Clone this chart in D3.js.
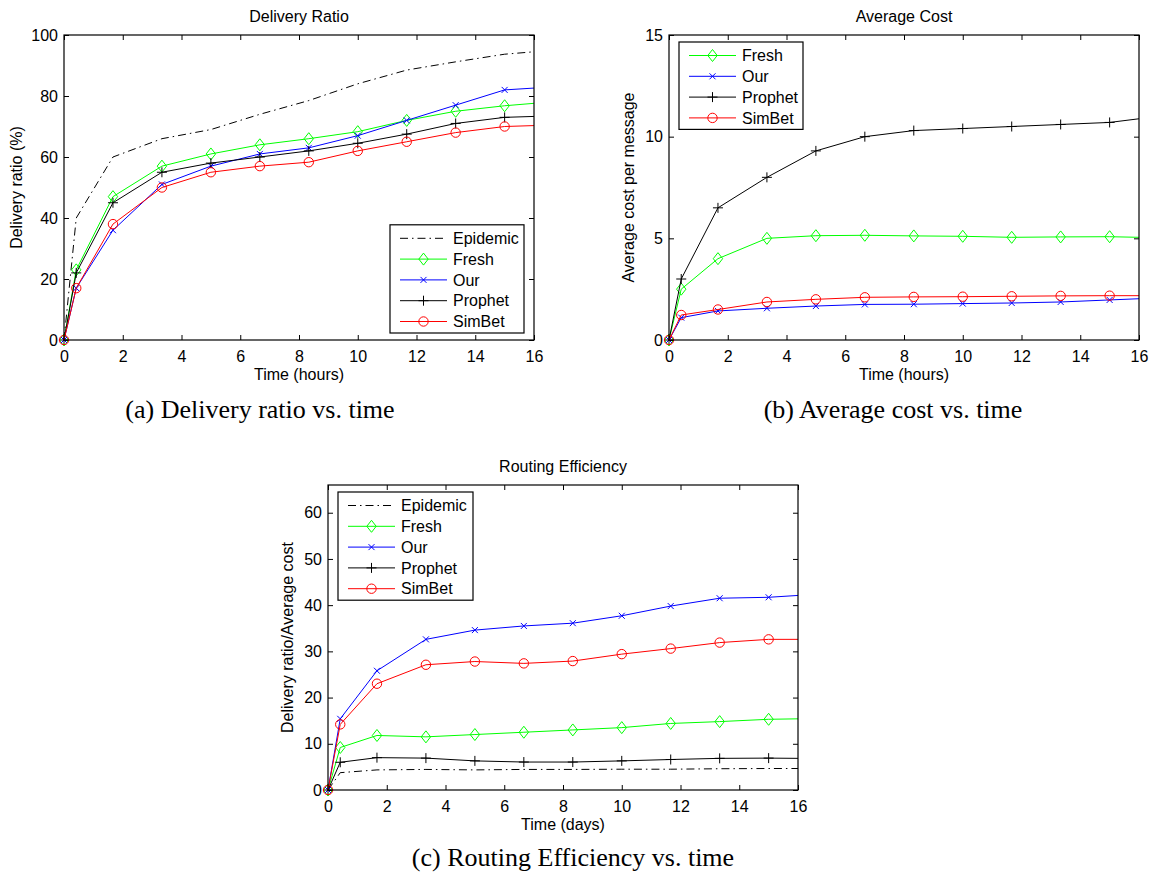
<!DOCTYPE html>
<html>
<head>
<meta charset="utf-8">
<script src="https://cdn.jsdelivr.net/npm/d3@7"></script>
<style>
  html, body { margin: 0; padding: 0; background: #fff; }
  svg { display: block; }
  .ax text { font-family: "Liberation Sans", Arial, sans-serif; font-size: 16px; fill: #000; }
  .lbl { font-family: "Liberation Sans", Arial, sans-serif; font-size: 16px; fill: #000; }
  .cap { font-family: "Liberation Serif", "Times New Roman", serif; font-size: 26px; fill: #000; }
</style>
</head>
<body>
<svg id="fig" width="1159" height="875"></svg>
<script>
// Sampling times shared by all three experiments
const timePoints = [0, 0.417, 1.667, 3.333, 5, 6.667, 8.333, 10, 11.667, 13.333, 15, 16];
const xTicks = [0, 2, 4, 6, 8, 10, 12, 14, 16];

// (a) Delivery ratio (%)
const epidemicRatio = [0, 40, 60, 66, 69, 74, 78.5, 84, 88.5, 91.2, 93.7, 94.5];
const freshRatio    = [0, 23, 47, 57, 61, 64, 66, 68.3, 72, 75, 76.8, 77.6];
const ourRatio      = [0, 17, 36, 51, 57, 61, 63, 67, 72, 77, 82, 82.6];
const prophetRatio  = [0, 22, 45, 55, 58, 60, 62, 64.5, 67.5, 71, 73, 73.3];
const simbetRatio   = [0, 17, 38, 50, 55, 57, 58.3, 62, 65, 68, 70, 70.3];
const ratioTicks = [0, 20, 40, 60, 80, 100];

// (b) Average cost per message
const freshCost   = [0, 2.5, 4.0, 5.0, 5.13, 5.15, 5.12, 5.1, 5.05, 5.07, 5.08, 5.05];
const ourCost     = [0, 1.1, 1.43, 1.56, 1.67, 1.75, 1.76, 1.79, 1.82, 1.87, 1.97, 2.03];
const prophetCost = [0, 3.0, 6.5, 8.0, 9.3, 10.0, 10.3, 10.4, 10.5, 10.6, 10.7, 10.88];
const simbetCost  = [0, 1.23, 1.5, 1.87, 2.0, 2.1, 2.12, 2.13, 2.15, 2.17, 2.18, 2.18];
const costTicks = [0, 5, 10, 15];

// (c) Routing efficiency (delivery ratio / average cost)
const epidemicEff = [0, 3.75, 4.35, 4.45, 4.35, 4.45, 4.45, 4.5, 4.5, 4.6, 4.65, 4.65];
const freshEff    = [0, 9.2, 11.8, 11.5, 12.0, 12.5, 13.0, 13.5, 14.4, 14.8, 15.3, 15.4];
const ourEff      = [0, 15.4, 25.8, 32.6, 34.6, 35.5, 36.1, 37.7, 39.8, 41.5, 41.7, 42.1];
const prophetEff  = [0, 6.0, 7.0, 6.9, 6.3, 6.05, 6.05, 6.3, 6.6, 6.85, 6.9, 6.85];
const simbetEff   = [0, 14.2, 23.0, 27.1, 27.8, 27.4, 27.9, 29.4, 30.6, 31.9, 32.6, 32.6];
const effTicks = [0, 10, 20, 30, 40, 50, 60];

// Line styles per protocol
const styles = {
  Epidemic: { color: "#000000", marker: "none", dash: "8,4,1.5,4" },
  Fresh:    { color: "#00ff00", marker: "diamond", dash: null },
  Our:      { color: "#0000ff", marker: "x", dash: null },
  Prophet:  { color: "#000000", marker: "plus", dash: null },
  SimBet:   { color: "#ff0000", marker: "circle", dash: null }
};

const svg = d3.select("#fig");

function drawMarker(g, type, color, cx, cy) {
  if (type === "diamond") {
    g.append("path").attr("d", `M${cx},${cy - 6}L${cx + 4.7},${cy}L${cx},${cy + 6}L${cx - 4.7},${cy}Z`)
      .attr("fill", "none").attr("stroke", color).attr("stroke-width", 1);
  } else if (type === "circle") {
    g.append("circle").attr("cx", cx).attr("cy", cy).attr("r", 4.7)
      .attr("fill", "none").attr("stroke", color).attr("stroke-width", 1);
  } else if (type === "x") {
    g.append("path").attr("d", `M${cx - 3},${cy - 3}L${cx + 3},${cy + 3}M${cx - 3},${cy + 3}L${cx + 3},${cy - 3}`)
      .attr("stroke", color).attr("stroke-width", 1);
  } else if (type === "plus") {
    g.append("path").attr("d", `M${cx - 5},${cy}L${cx + 5},${cy}M${cx},${cy - 5}L${cx},${cy + 5}`)
      .attr("stroke", color).attr("stroke-width", 1);
  }
}

function panel(cfg) {
  const { left, top, width, height, yMax, yTicks, title, xLabel, yLabel, yLabelX, series, legend } = cfg;
  const g = svg.append("g");
  const x = d3.scaleLinear().domain([0, 16]).range([left, left + width]);
  const y = d3.scaleLinear().domain([0, yMax]).range([top + height, top]);

  // axes with inward ticks on all four sides
  const bottom = g.append("g").attr("class", "ax").attr("transform", `translate(0,${top + height})`)
    .call(d3.axisBottom(x).tickValues(xTicks).tickSize(-5).tickSizeOuter(0).tickPadding(11));
  const leftAx = g.append("g").attr("class", "ax").attr("transform", `translate(${left},0)`)
    .call(d3.axisLeft(y).tickValues(yTicks).tickSize(-5).tickSizeOuter(0).tickPadding(6));
  const topAx = g.append("g").attr("class", "ax").attr("transform", `translate(0,${top})`)
    .call(d3.axisTop(x).tickValues(xTicks).tickSize(-5).tickSizeOuter(0));
  const rightAx = g.append("g").attr("class", "ax").attr("transform", `translate(${left + width},0)`)
    .call(d3.axisRight(y).tickValues(yTicks).tickSize(-5).tickSizeOuter(0));
  [bottom, leftAx, topAx, rightAx].forEach(a => {
    a.select(".domain").remove();
    a.selectAll("line").attr("stroke", "#000");
  });
  topAx.selectAll("text").remove();
  rightAx.selectAll("text").remove();

  // series
  const line = d3.line().x((d, i) => x(timePoints[i])).y(d => y(d));
  series.forEach(s => {
    const st = styles[s.name];
    g.append("path").datum(s.values).attr("d", line)
      .attr("fill", "none").attr("stroke", st.color).attr("stroke-width", 1)
      .attr("stroke-dasharray", st.dash);
    if (st.marker !== "none") {
      s.values.slice(0, 11).forEach((v, i) => drawMarker(g, st.marker, st.color, x(timePoints[i]), y(v)));
    }
  });

  // frame
  g.append("rect").attr("x", left).attr("y", top).attr("width", width).attr("height", height)
    .attr("fill", "none").attr("stroke", "#000").attr("stroke-width", 1.2);

  // texts
  g.append("text").attr("class", "lbl").attr("x", left + width / 2).attr("y", top - 13)
    .attr("text-anchor", "middle").text(title);
  g.append("text").attr("class", "lbl").attr("x", left + width / 2).attr("y", top + height + 40)
    .attr("text-anchor", "middle").text(xLabel);
  g.append("text").attr("class", "lbl")
    .attr("transform", `translate(${yLabelX},${top + height / 2}) rotate(-90)`)
    .attr("text-anchor", "middle").text(yLabel);

  // legend
  const names = series.map(s => s.name);
  const rowH = 20.8;
  const lw = legend.width;
  const lh = 25 + rowH * (names.length - 1);
  const lx = legend.corner === "br" ? left + width - 10 - lw : left + 10;
  const ly = legend.corner === "br" ? top + height - 7 - lh : top + 7;
  const lg = g.append("g");
  lg.append("rect").attr("x", lx).attr("y", ly).attr("width", lw).attr("height", lh)
    .attr("fill", "#fff").attr("stroke", "#000").attr("stroke-width", 1.2);
  names.forEach((n, i) => {
    const st = styles[n];
    const cy = ly + 13.5 + i * rowH;
    lg.append("line").attr("x1", lx + 10).attr("x2", lx + 57).attr("y1", cy).attr("y2", cy)
      .attr("stroke", st.color).attr("stroke-width", 1).attr("stroke-dasharray", st.dash);
    drawMarker(lg, st.marker, st.color, lx + 33.5, cy);
    lg.append("text").attr("class", "lbl").attr("x", lx + 63).attr("y", cy).attr("dy", "0.36em").text(n);
  });
}

panel({
  left: 64, top: 35, width: 470, height: 305, yMax: 100, yTicks: ratioTicks,
  title: "Delivery Ratio", xLabel: "Time (hours)", yLabel: "Delivery ratio (%)", yLabelX: 22,
  series: [
    { name: "Epidemic", values: epidemicRatio },
    { name: "Fresh", values: freshRatio },
    { name: "Our", values: ourRatio },
    { name: "Prophet", values: prophetRatio },
    { name: "SimBet", values: simbetRatio }
  ],
  legend: { corner: "br", width: 134 }
});

panel({
  left: 669, top: 35, width: 470, height: 305, yMax: 15, yTicks: costTicks,
  title: "Average Cost", xLabel: "Time (hours)", yLabel: "Average cost per message", yLabelX: 634,
  series: [
    { name: "Fresh", values: freshCost },
    { name: "Our", values: ourCost },
    { name: "Prophet", values: prophetCost },
    { name: "SimBet", values: simbetCost }
  ],
  legend: { corner: "tl", width: 124 }
});

panel({
  left: 328, top: 485, width: 470, height: 305, yMax: 66, yTicks: effTicks,
  title: "Routing Efficiency", xLabel: "Time (days)", yLabel: "Delivery ratio/Average cost", yLabelX: 293,
  series: [
    { name: "Epidemic", values: epidemicEff },
    { name: "Fresh", values: freshEff },
    { name: "Our", values: ourEff },
    { name: "Prophet", values: prophetEff },
    { name: "SimBet", values: simbetEff }
  ],
  legend: { corner: "tl", width: 135 }
});

// subfigure captions
svg.append("text").attr("class", "cap").attr("x", 260).attr("y", 418).attr("text-anchor", "middle")
  .text("(a) Delivery ratio vs. time");
svg.append("text").attr("class", "cap").attr("x", 893).attr("y", 418).attr("text-anchor", "middle")
  .text("(b) Average cost vs. time");
svg.append("text").attr("class", "cap").attr("x", 573).attr("y", 866).attr("text-anchor", "middle")
  .text("(c) Routing Efficiency vs. time");
</script>
</body>
</html>
